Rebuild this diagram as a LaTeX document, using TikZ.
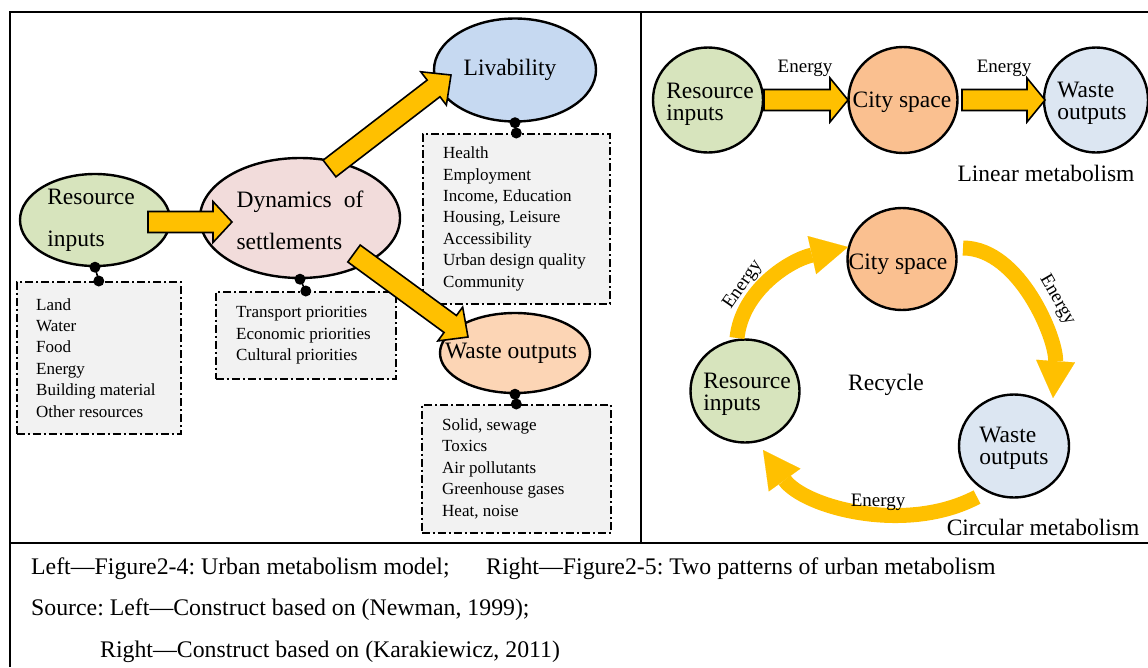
\documentclass[tikz,border=0pt]{standalone}
\usepackage{fontspec}
\setmainfont{Liberation Serif}
\usetikzlibrary{shapes.geometric,arrows.meta,calc}
\frenchspacing

\definecolor{resgreen}{HTML}{D7E4BD}
\definecolor{dynpink}{HTML}{F2DCDB}
\definecolor{livblue}{HTML}{C6D9F1}
\definecolor{wastepeach}{HTML}{FCD5B5}
\definecolor{cityorange}{HTML}{FAC090}
\definecolor{wasteblue}{HTML}{DCE6F2}
\definecolor{boxgray}{HTML}{F2F2F2}
\definecolor{flowyellow}{HTML}{FFC000}

\tikzset{
  bubble/.style={ellipse, draw=black, line width=2.4pt, inner sep=0pt},
  infobox/.style={draw=black, fill=boxgray, line width=1.6pt,
    dash pattern=on 8pt off 3pt on 2pt off 3pt, inner sep=0pt, anchor=north west},
  bigtext/.style={font=\fontsize{23.5}{42}\selectfont, align=left, inner sep=0pt},
  circtext/.style={font=\fontsize{23.5}{22}\selectfont, align=left, inner sep=0pt},
  listtext/.style={font=\fontsize{17}{21.4}\selectfont, align=left, inner sep=0pt, anchor=west},
  smalltext/.style={font=\fontsize{19}{21}\selectfont, inner sep=0pt},
  captext/.style={font=\fontsize{23.8}{26}\selectfont, inner sep=0pt, anchor=west},
  pinline/.style={line width=1.6pt},
  fatarr/.style={fill=flowyellow, draw=black, line width=1.6pt, line join=miter},
  cyclearrow/.style={draw=flowyellow, line width=15pt,
    -{Triangle[width=39pt,length=37pt,line width=0.1pt]}},
  frameline/.style={line width=2pt}
}

% broad block arrow: start, tip, shaft half-width, head half-width, head length
\newcommand\fatarrow[5]{%
  \draw[fatarr] let \p1=($(#2)-(#1)$), \n1={atan2(\y1,\x1)} in
    ($(#1)+({\n1+90}:#3)$) -- ($(#2)+({\n1+180}:#5)+({\n1+90}:#3)$)
    -- ($(#2)+({\n1+180}:#5)+({\n1+90}:#4)$) -- (#2)
    -- ($(#2)+({\n1+180}:#5)+({\n1-90}:#4)$) -- ($(#2)+({\n1+180}:#5)+({\n1-90}:#3)$)
    -- ($(#1)+({\n1-90}:#3)$) -- cycle;}

% dotted pin joining a bubble to its list box
\newcommand\pin[2]{%
  \draw[pinline] (#1.south) -- (#2.north);
  \fill (#1.south) circle (5.5pt);
  \fill (#2.north) circle (5.5pt);}

\begin{document}
\begin{tikzpicture}[x=1pt, y=-1pt]
\useasboundingbox (0,0) rectangle (1148,667);
\fill[white] (0,0) rectangle (1148,667);

% frame
\draw[frameline] (10,667) -- (10,12) -- (1150,12);
\draw[frameline] (641,12) -- (641,543);
\draw[frameline] (10,543) -- (1150,543);

% ---------- urban metabolism model ----------
\node[bubble, fill=resgreen, minimum width=150, minimum height=92] (ri) at (95,220) {};
\node[bigtext] at (91,220) {Resource\\inputs};
\node[bubble, fill=dynpink, minimum width=200, minimum height=120] (ds) at (300,218) {};
\node[bigtext] at (300,220) {Dynamics\hspace{12pt}of\\settlements};
\node[bubble, fill=livblue, minimum width=162, minimum height=103] (lv) at (515,70) {};
\node[bigtext] at (510,70) {Livability};
\node[bubble, fill=wastepeach, minimum width=150, minimum height=80] (wo) at (515,353) {};
\node[bigtext] at (511,353) {Waste outputs};

\node[infobox, minimum width=164, minimum height=152] (rbox) at (16,281) {};
\node[listtext] at ($(rbox.west)+(20pt,0)$) {Land\\Water\\Food\\Energy\\Building material\\Other resources};
\node[infobox, minimum width=180, minimum height=87] (dbox) at (215,291) {};
\node[listtext] at ($(dbox.west)+(21pt,0)$) {Transport priorities\\Economic priorities\\Cultural priorities};
\node[infobox, minimum width=187, minimum height=170] (lbox) at (422,133) {};
\node[listtext] at ($(lbox.west)+(21pt,0)$) {Health\\Employment\\Income, Education\\Housing, Leisure\\Accessibility\\Urban design quality\\Community};
\node[infobox, minimum width=189, minimum height=128] (wbox) at (421,404) {};
\node[listtext] at ($(wbox.west)+(21pt,0)$) {Solid, sewage\\Toxics\\Air pollutants\\Greenhouse gases\\Heat, noise};

\pin{ri}{rbox}
\pin{ds}{dbox}
\pin{lv}{lbox}
\pin{wo}{wbox}

\coordinate (f1s) at (148,222);   \coordinate (f1e) at (232,222);
\coordinate (f2s) at (329.5,168.5); \coordinate (f2e) at (451,75);
\coordinate (f3s) at (354,253.5); \coordinate (f3e) at (468,337);
\fatarrow{f1s}{f1e}{10.5pt}{20.5pt}{19pt}
\fatarrow{f2s}{f2e}{10.5pt}{21pt}{22pt}
\fatarrow{f3s}{f3e}{10.5pt}{21pt}{22pt}

% ---------- linear metabolism ----------
\node[bubble, fill=resgreen, minimum width=110, minimum height=105] (lr) at (708,100) {};
\node[circtext] at (710,104) {Resource\\inputs};
\node[bubble, fill=cityorange, minimum width=109, minimum height=106] (lc) at (903,100) {};
\node[circtext] at (902,102) {City space};
\node[bubble, fill=wasteblue, minimum width=104, minimum height=105] (lw) at (1096,100) {};
\node[circtext] at (1092,103) {Waste\\outputs};

\coordinate (l1s) at (764,100); \coordinate (l1e) at (848,100);
\coordinate (l2s) at (962,100); \coordinate (l2e) at (1045,100);
\fatarrow{l1s}{l1e}{10.5pt}{22pt}{18pt}
\fatarrow{l2s}{l2e}{10.5pt}{22pt}{18pt}
\node[smalltext] at (805,68) {Energy};
\node[smalltext] at (1004,68) {Energy};
\node[circtext] at (1046,173) {Linear metabolism};

% ---------- circular metabolism ----------
\node[bubble, fill=cityorange, minimum width=109, minimum height=102] (cc) at (902,259) {};
\node[circtext] at (898,264) {City space};
\node[bubble, fill=resgreen, minimum width=109, minimum height=103] (cr) at (745,391) {};
\node[circtext] at (747,394) {Resource\\inputs};
\node[bubble, fill=wasteblue, minimum width=110, minimum height=103] (cw) at (1014,446) {};
\node[circtext] at (1014,448) {Waste\\outputs};

\coordinate (c1s) at (737,338);  \coordinate (c1e) at (848,247);
\coordinate (c2s) at (963,248);  \coordinate (c2e) at (1053,398);
\coordinate (c3s) at (977,497);  \coordinate (c3e) at (763,450);
\draw[cyclearrow] (c1s) .. controls (742,290) and (790,260) .. (c1e);
\draw[cyclearrow] (c2s) .. controls (1020,248) and (1057,340) .. (c2e);
\draw[cyclearrow] (c3s) .. controls (905,535) and (804,507) .. (c3e);

\node[smalltext, rotate=55] at (743,285) {Energy};
\node[smalltext, rotate=-60] at (1057,300) {Energy};
\node[smalltext] at (878,502) {Energy};
\node[circtext] at (886,385) {Recycle};
\node[circtext] at (1043,527) {Circular metabolism};

% ---------- caption ----------
\node[captext] at (31,569) {Left—Figure2-4: Urban metabolism model;};
\node[captext] at (486,569) {Right—Figure2-5: Two patterns of urban metabolism};
\node[captext] at (31,610) {Source: Left—Construct based on (Newman, 1999);};
\node[captext] at (100,652) {Right—Construct based on (Karakiewicz, 2011)};
\end{tikzpicture}
\end{document}
